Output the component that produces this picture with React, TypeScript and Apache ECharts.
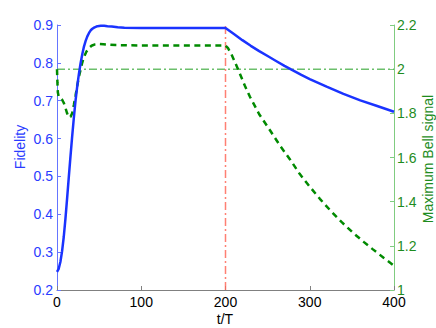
import React, { useEffect, useRef } from "react";
import * as echarts from "echarts";

const fidelityT = [0, 2, 4, 6, 8, 10, 12, 14, 16, 18, 20, 22, 24, 26, 28, 30, 32, 34, 36, 38, 40, 42, 44, 46, 48, 52, 56, 60, 65, 72, 80, 100, 150, 200, 210, 220, 230, 240, 250, 260, 270, 280, 290, 300, 320, 340, 360, 380, 400];
const fidelityV = [0.248, 0.256, 0.274, 0.302, 0.34, 0.388, 0.442, 0.498, 0.553, 0.606, 0.655, 0.7, 0.738, 0.771, 0.799, 0.823, 0.843, 0.858, 0.87, 0.879, 0.886, 0.89, 0.893, 0.895, 0.897, 0.898, 0.898, 0.897, 0.896, 0.894, 0.893, 0.892, 0.892, 0.892, 0.876, 0.86, 0.845, 0.831, 0.818, 0.805, 0.792, 0.78, 0.768, 0.757, 0.737, 0.718, 0.701, 0.686, 0.671];

const bellT = [0, 0.5, 1, 2, 4, 6, 8, 10, 12, 14, 16, 18, 20, 22, 24, 26, 28, 30, 32, 35, 38, 41, 45, 50, 55, 70, 100, 150, 200, 203, 207, 212, 217, 223, 229, 240, 253, 265, 277, 288, 300, 312, 324, 338, 352, 364, 375, 388, 400];
const bellV = [2.0, 1.94, 1.895, 1.875, 1.87, 1.862, 1.848, 1.825, 1.8, 1.783, 1.784, 1.8, 1.838, 1.88, 1.925, 1.965, 1.998, 2.03, 2.055, 2.08, 2.096, 2.106, 2.112, 2.114, 2.113, 2.109, 2.107, 2.107, 2.107, 2.095, 2.068, 2.025, 1.98, 1.925, 1.875, 1.796, 1.722, 1.652, 1.589, 1.526, 1.468, 1.413, 1.362, 1.307, 1.257, 1.218, 1.184, 1.145, 1.11];

const classicalBoundT = [0, 400];
const classicalBoundV = [2, 2];
const switchT = [200, 200];
const switchV = [0.2, 0.9];

const xTicks = { min: 0, max: 400, interval: 100 };
const leftTicks = { min: 0.2, max: 0.9, interval: 0.1 };
const rightTicks = { min: 1, max: 2.2, interval: 0.2 };

const FONT = "Liberation Sans, Arial, Helvetica, sans-serif";
const fmt = (v: number) => String(Math.round(v * 10) / 10);

export default function App() {
  const ref = useRef<HTMLDivElement>(null);
  useEffect(() => {
    document.body.style.margin = "0";
    const chart = echarts.init(ref.current!, null, { renderer: "svg" });
    const zip = (a: number[], b: number[]) => a.map((t, i) => [t, b[i]]);
    chart.setOption({
      animation: false,
      backgroundColor: "#ffffff",
      grid: { left: 57, right: 42, top: 25, bottom: 38 },
      xAxis: {
        type: "value",
        ...xTicks,
        axisLine: { show: true, lineStyle: { color: "#808080", width: 1 } },
        axisTick: { show: true, inside: true, length: 4, lineStyle: { color: "#808080" } },
        axisLabel: { color: "#000", fontSize: 14, fontFamily: FONT, margin: 5 },
        splitLine: { show: false },
      },
      yAxis: [
        {
          type: "value",
          position: "left",
          ...leftTicks,
          axisLine: { show: true, lineStyle: { color: "#6575ff", width: 1 } },
          axisTick: { show: true, inside: true, length: 4, lineStyle: { color: "#6575ff" } },
          axisLabel: { color: "#2a3cff", fontSize: 14, fontFamily: FONT, margin: 4, formatter: fmt },
          splitLine: { show: false },
        },
        {
          type: "value",
          position: "right",
          ...rightTicks,
          axisLine: { show: true, lineStyle: { color: "#80cc80", width: 1 } },
          axisTick: { show: true, inside: true, length: 4, lineStyle: { color: "#80cc80" } },
          axisLabel: { color: "#1e8c1e", fontSize: 14, fontFamily: FONT, margin: 3, formatter: fmt },
          splitLine: { show: false },
        },
      ],
      graphic: [
        { type: "text", x: 20, y: 147, rotation: Math.PI / 2, style: { text: "Fidelity", fill: "#2a3cff", font: `14px ${FONT}`, align: "center", verticalAlign: "middle" } },
        { type: "text", x: 428, y: 159, rotation: Math.PI / 2, style: { text: "Maximum Bell signal", fill: "#1e8c1e", font: `14px ${FONT}`, align: "center", verticalAlign: "middle" } },
        { type: "text", x: 225, y: 319, style: { text: "t/T", fill: "#000", font: `14px ${FONT}`, align: "center", verticalAlign: "middle" } },
      ],
      series: [
        {
          type: "line", yAxisIndex: 1, data: zip(classicalBoundT, classicalBoundV), symbol: "none",
          lineStyle: { color: "#5cb85c", width: 1.5, type: [8, 3, 2, 3], opacity: 0.9 },
        },
        {
          type: "line", yAxisIndex: 0, data: zip(switchT, switchV), symbol: "none",
          lineStyle: { color: "#ff6a5a", width: 1.5, type: [8, 3, 2, 3], opacity: 0.85 },
        },
        {
          type: "line", yAxisIndex: 1, data: zip(bellT, bellV), symbol: "none",
          lineStyle: { color: "#008a00", width: 2.5, type: [6, 4.5] },
        },
        {
          type: "line", yAxisIndex: 0, data: zip(fidelityT, fidelityV), symbol: "none",
          lineStyle: { color: "#1a33ff", width: 2.5 },
        },
      ],
    });
    return () => chart.dispose();
  }, []);
  return <div ref={ref} style={{ width: 436, height: 328 }} />;
}
